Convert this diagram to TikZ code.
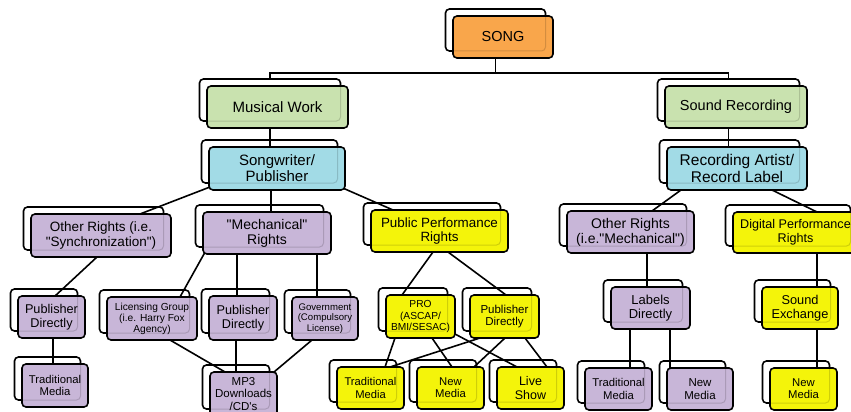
\documentclass[tikz,border=0pt]{standalone}
\usepackage{fontspec}
\setmainfont{Liberation Sans}[Ligatures=TeXOff]
\usetikzlibrary{calc}
\pgfdeclarelayer{bg}
\pgfdeclarelayer{back}
\pgfdeclarelayer{mid}
\pgfsetlayers{bg,back,mid,main}
\definecolor{cOr}{HTML}{F9A64B}
\definecolor{cGr}{HTML}{C9E2AF}
\definecolor{cBl}{HTML}{A2DBE6}
\definecolor{cPu}{HTML}{C8B6D8}
\definecolor{cYe}{HTML}{F4F40A}
\tikzset{
  boxb/.style={draw, fill=white, rounded corners=4pt, line width=1.6pt, inner sep=0pt, outer sep=0pt},
  boxf/.style={draw, rounded corners=4pt, line width=1.6pt, inner sep=0pt, outer sep=0pt, align=center},
  conn/.style={line width=1.6pt, shorten <=-3pt, shorten >=-3pt},
  elbow/.style={line width=1.6pt},
  ghost/.style={draw=black, opacity=0.15, line width=1pt, rounded corners=4pt}
}
% name, x1, y1, x2, y2, colour, font size, text
\newcommand\bx[8]{%
  \pgfmathsetmacro\bw{#4-#2}\pgfmathsetmacro\bh{#5-#3}%
  \pgfmathsetmacro\bcx{(#2+#4)/2}\pgfmathsetmacro\bcy{(#3+#5)/2}%
  \pgfmathsetmacro\bls{#7*1.08}%
  \begin{pgfonlayer}{back}
    \node[boxb, minimum width=\bw pt, minimum height=\bh pt] (#1-b) at (\bcx-7.5,\bcy-7) {};
  \end{pgfonlayer}
  \node[boxf, fill=#6, minimum width=\bw pt, minimum height=\bh pt,
        font=\fontsize{#7}{\bls}\selectfont] (#1) at (\bcx,\bcy) {#8};
  \draw[ghost] (#1-b.south west) rectangle (#1-b.north east);
}
% connector: node A + offset, node B + offset (offsets from north west corners)
\newcommand\cn[6]{%
  \begin{pgfonlayer}{mid}
    \draw[conn] ($(#1.north west)+(#2,#3)$) -- ($(#4.north west)+(#5,#6)$);
  \end{pgfonlayer}
}
\begin{document}
\begin{tikzpicture}[x=1pt,y=-1pt]
\useasboundingbox (0,0) rectangle (851,412);
\begin{pgfonlayer}{bg}
  \fill[white] (0,0) rectangle (851,412);
\end{pgfonlayer}

\bx{song}{453}{16}{553}{58}{cOr}{14.5}{SONG}
\bx{mw}{207}{86}{348}{128}{cGr}{15}{Musical Work}
\bx{sr}{665}{86}{807}{128}{cGr}{14.5}{Sound Recording}
\bx{sw}{209}{147}{345}{190}{cBl}{15}{Songwriter/\\Publisher}
\bx{ra}{667}{147}{807}{190}{cBl}{15.5}{Recording Artist/\\Record Label}

\bx{ors}{31}{214}{171}{257}{cPu}{13.5}{Other Rights (i.e.\\"Synchronization")}
\bx{mech}{203}{212}{331}{254}{cPu}{14}{"Mechanical"\\Rights}
\bx{ppr}{371}{210}{508}{252}{cYe}{13.4}{Public Performance\\Rights}
\bx{orm}{567}{211}{694}{253}{cPu}{14}{Other Rights\\(i.e."Mechanical")}
\bx{dpr}{733}{212}{858}{253}{cYe}{12.6}{Digital Performance\\Rights}

\bx{pd1}{18}{296}{85}{338}{cPu}{12.7}{Publisher\\Directly}
\bx{tm1}{22}{364}{88}{407}{cPu}{11.3}{Traditional\\Media}
\bx{lg}{107}{297}{197}{340}{cPu}{10.2}{Licensing Group\\(i.e. Harry Fox\\Agency)}
\bx{pd2}{209}{296}{277}{340}{cPu}{12.7}{Publisher\\Directly}
\bx{gov}{292}{297}{358}{340}{cPu}{9.6}{Government\\(Compulsory\\License)}
\bx{mp3}{210}{372}{277}{416}{cPu}{11.5}{MP3\\Downloads\\/CD's}

\bx{pro}{386}{295}{455}{338}{cYe}{10.2}{PRO\\(ASCAP/\\BMI/SESAC)}
\bx{pd3}{470}{295}{539}{338}{cYe}{11.5}{Publisher\\Directly}
\bx{tm2}{337}{367}{404}{409}{cYe}{11.2}{Traditional\\Media}
\bx{nm1}{417}{367}{484}{409}{cYe}{11.3}{New\\Media}
\bx{ls}{497}{367}{564}{409}{cYe}{12.5}{Live\\Show}

\bx{ld}{611}{287}{690}{329}{cPu}{13}{Labels\\Directly}
\bx{tm3}{585}{368}{652}{410}{cPu}{11.3}{Traditional\\Media}
\bx{nm2}{667}{368}{733}{410}{cPu}{11.5}{New\\Media}
\bx{se}{762}{287}{838}{329}{cYe}{12.8}{Sound\\Exchange}
\bx{nm3}{770}{368}{837}{410}{cYe}{11.3}{New\\Media}

% top level elbows and verticals
\begin{pgfonlayer}{mid}
  \draw[elbow] (song-b.center) |- ($(mw-b.north)+(0,-6)$) -- (mw-b.north);
  \draw[elbow] (song-b.center) |- ($(sr-b.north)+(0,-6)$) -- (sr-b.north);
  \draw[elbow] (mw-b.center) -- (mw-b.center |- sw.center);
  \draw[elbow] (sr-b.center) -- (sr-b.center |- ra.center);
\end{pgfonlayer}

\cn{sw}{1}{40}{ors}{109}{0}
\cn{sw}{62}{43}{mech}{68}{0}
\cn{sw}{136}{42}{ppr}{22}{0}
\cn{ra}{14}{43}{orm}{85}{0}
\cn{ra}{105}{43}{dpr}{84}{0}

\cn{ors}{66}{43}{pd1}{37}{0}
\cn{pd1}{35}{42}{tm1}{31}{0}
\cn{mech}{1}{42}{lg}{73}{0}
\cn{mech}{34}{42}{pd2}{28}{0}
\cn{mech}{114}{42}{gov}{25}{0}
\cn{pd2}{27}{44}{mp3}{26}{0}
\cn{lg}{63}{43}{mp3}{15}{0}
\cn{gov}{20}{43}{mp3}{64}{0}

\cn{ppr}{62}{42}{pro}{16}{0}
\cn{ppr}{77}{42}{pd3}{36}{0}
\cn{pro}{9}{43}{tm2}{48}{0}
\cn{pro}{46}{43}{nm1}{35}{0}
\cn{pro}{69}{39}{ls}{20}{0}
\cn{pd3}{10}{43}{tm2}{53}{0}
\cn{pd3}{35}{43}{nm1}{57}{0}
\cn{pd3}{55}{43}{ls}{50}{0}

\cn{orm}{80}{42}{ld}{36}{0}
\cn{ld}{19}{42}{tm3}{45}{0}
\cn{ld}{59}{42}{nm2}{3}{0}
\cn{dpr}{84}{41}{se}{55}{0}
\cn{se}{55}{42}{nm3}{47}{0}
\end{tikzpicture}
\end{document}
